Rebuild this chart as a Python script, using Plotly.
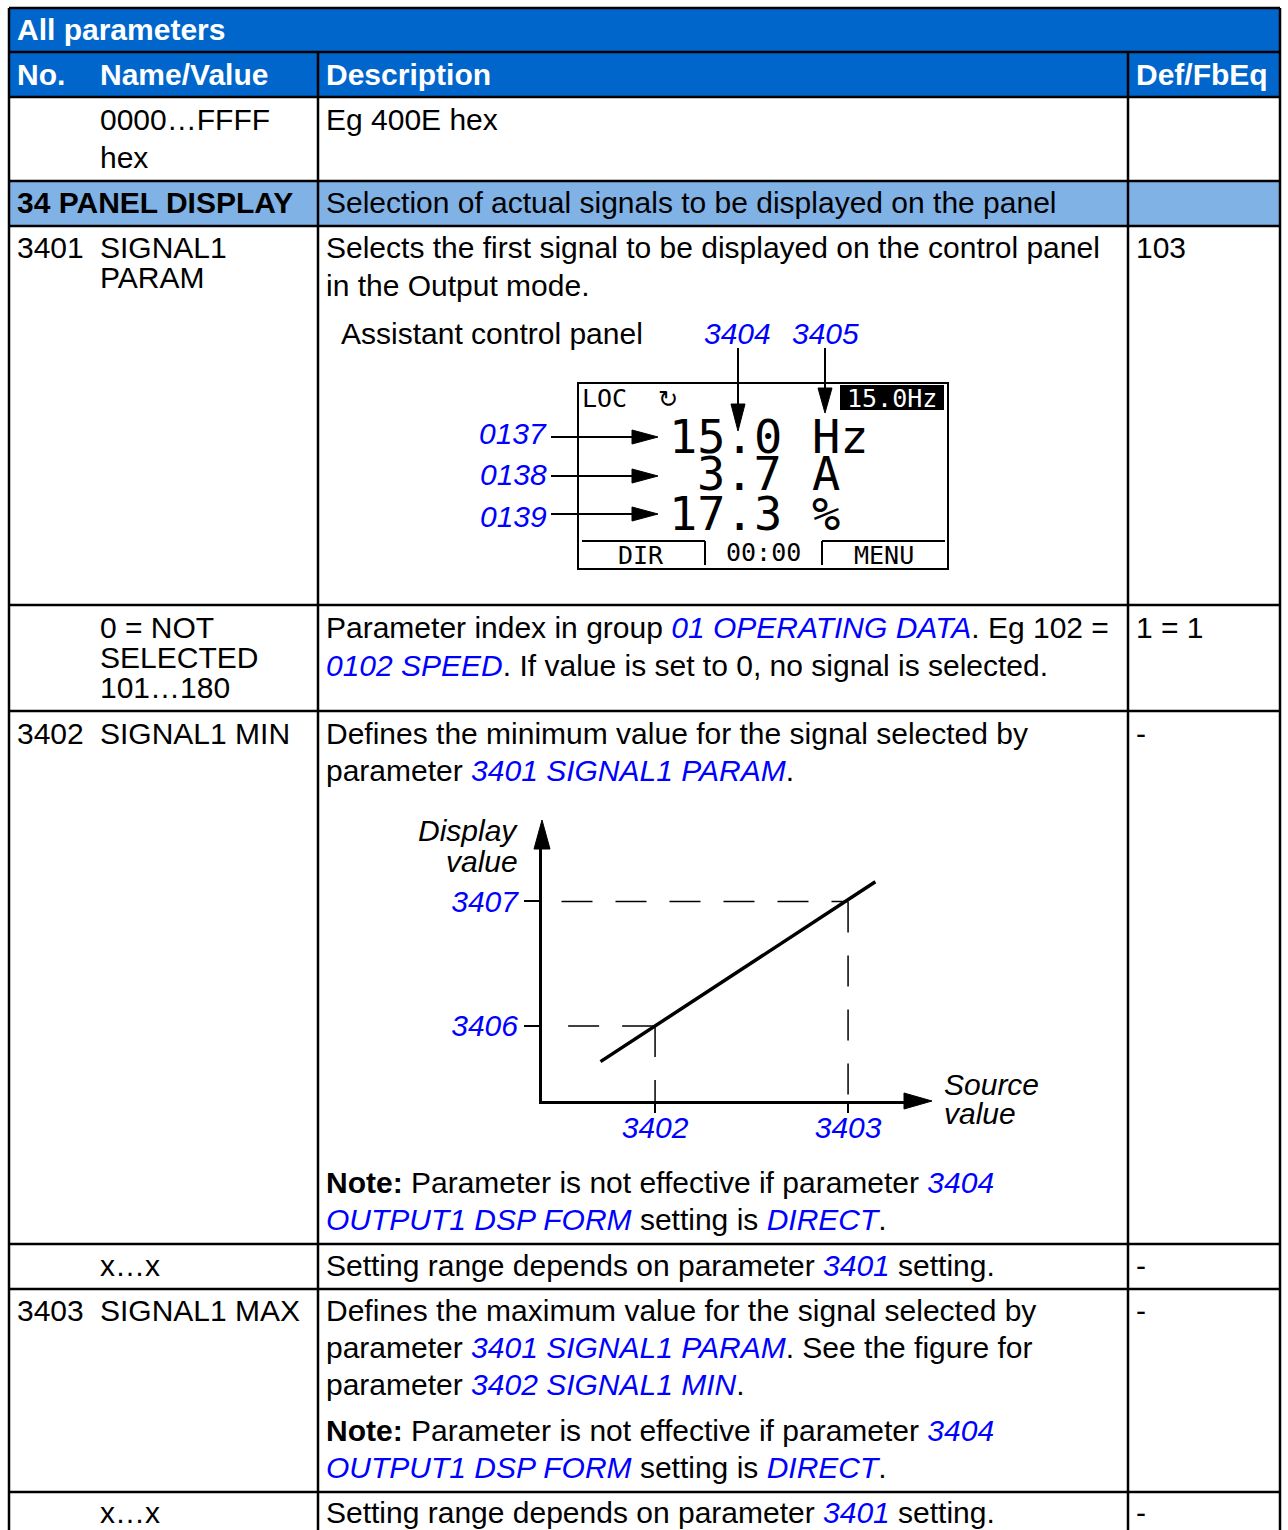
import plotly.graph_objects as go

W, H = 1288, 1530
HEAD_BLUE = "#0066cc"
GROUP_BLUE = "#80b2e6"
LINK_BLUE = "#0000ff"
SANS = "Liberation Sans"
MONO = "DejaVu Sans Mono"
FS = 30


def link(s):
    return f'<span style="color:{LINK_BLUE}"><i>{s}</i></span>'


# ---- table content ----
title = "All parameters"
col_titles = ["No.", "Name/Value", "Description", "Def/FbEq"]

hex_name = ["0000…FFFF", "hex"]
hex_desc = "Eg 400E hex"

group_name = "34 PANEL DISPLAY"
group_desc = "Selection of actual signals to be displayed on the panel"

p3401 = ["3401", ["SIGNAL1", "PARAM"], "103"]
p3401_desc = ["Selects the first signal to be displayed on the control panel",
              "in the Output mode."]
panel_caption = "Assistant control panel"
panel_refs = ["3404", "3405"]
panel_signals = ["0137", "0138", "0139"]
panel_values = ["15.0", "3.7", "17.3"]
panel_units = ["Hz", "A", "%"]
panel_status = ["LOC", "↻", "15.0Hz"]
panel_keys = ["DIR", "00:00", "MENU"]

sel_name = ["0 = NOT", "SELECTED", "101…180"]
sel_desc = ["Parameter index in group " + link("01 OPERATING DATA") + ". Eg 102 =",
            link("0102 SPEED") + ". If value is set to 0, no signal is selected."]
sel_def = "1 = 1"

p3402 = ["3402", "SIGNAL1 MIN", "-"]
p3402_desc = ["Defines the minimum value for the signal selected by",
              "parameter " + link("3401 SIGNAL1 PARAM") + "."]
note = ["<b>Note:</b> Parameter is not effective if parameter " + link("3404"),
        link("OUTPUT1 DSP FORM") + " setting is " + link("DIRECT") + "."]
range_name = "x…x"
range_desc = "Setting range depends on parameter " + link("3401") + " setting."
range_def = "-"

p3403 = ["3403", "SIGNAL1 MAX", "-"]
p3403_desc = ["Defines the maximum value for the signal selected by",
              "parameter " + link("3401 SIGNAL1 PARAM") + ". See the figure for",
              "parameter " + link("3402 SIGNAL1 MIN") + "."]

# ---- scaling diagram (source value -> display value) ----
src_line = [1.5, 8.55]
disp_line = [1.4, 7.8]
src_ticks = [2.9, 7.85]
src_labels = ["3402", "3403"]
disp_ticks = [2.67, 7.1]
disp_labels = ["3406", "3407"]
axis_titles = [["Display", "value"], ["Source", "value"]]

# ---- layout in pixels ----
L, R = 9, 1280
C1, C2 = 318, 1128
row_edges = [8, 52, 97, 181, 226, 605, 711, 1244, 1289, 1492]
NO_X, NAME_X, DESC_X, DEF_X = 15, 98, 324, 1134

shapes = []
ann = []


def put(x, y, text, size=FS, color="black", xanchor="left", family=SANS, **kw):
    ann.append(dict(x=x, y=y, xref="x", yref="y", text=text, showarrow=False,
                    xanchor=xanchor, yanchor="middle",
                    font=dict(family=family, size=size, color=color, **kw)))


def seg(x0, y0, x1, y1, w=2.5):
    shapes.append(dict(type="line", xref="x", yref="y", x0=x0, y0=y0, x1=x1, y1=y1,
                       line=dict(color="black", width=w)))


def box(x0, y0, x1, y1, fill=None, w=0, layer="below"):
    shapes.append(dict(type="rect", xref="x", yref="y", x0=x0, y0=y0, x1=x1, y1=y1,
                       fillcolor=fill or "rgba(0,0,0,0)",
                       line=dict(color="black", width=w), layer=layer))


def head(pts):
    path = "M " + " L ".join(f"{a},{b}" for a, b in pts) + " Z"
    shapes.append(dict(type="path", xref="x", yref="y", path=path,
                       fillcolor="black", line=dict(color="black", width=1)))


# backgrounds
box(L, row_edges[0], R, row_edges[2], HEAD_BLUE)
box(L, row_edges[3], R, row_edges[4], GROUP_BLUE)
# grid
for y in row_edges:
    seg(L, y, R, y)
for x in (L, R):
    seg(x, row_edges[0], x, H + 5)
for x in (C1, C2):
    seg(x, row_edges[1], x, H + 5)

# header text
put(NO_X, 29, title, color="white", weight="bold")
for x, t in zip((NO_X, NAME_X, DESC_X, DEF_X), col_titles):
    put(x, 74, t, color="white", weight="bold")

# hex row
for y, t in zip((119, 157), hex_name):
    put(NAME_X, y, t)
put(DESC_X, 119, hex_desc)

# group row
put(NO_X, 202, group_name, weight="bold")
put(DESC_X, 202, group_desc)

# 3401
put(NO_X, 247, p3401[0])
for y, t in zip((247, 277), p3401[1]):
    put(NAME_X, y, t)
for y, t in zip((247, 285), p3401_desc):
    put(DESC_X, y, t)
put(DEF_X, 247, p3401[2])

# control panel picture
put(339, 333, panel_caption)
for x, t in zip((737, 825), panel_refs):
    put(x, 333, t, color=LINK_BLUE, xanchor="center", style="italic")
box(578, 383, 948, 569, w=2, layer="above")
box(840, 385, 944, 410, fill="black", layer="above")
put(580, 398, panel_status[0], size=25, family=MONO)
put(668, 399, panel_status[1], size=24, family="DejaVu Sans", xanchor="center")
put(892, 398, panel_status[2], size=25, family=MONO, color="white", xanchor="center")
for y, v, u in zip((436, 473, 513), panel_values, panel_units):
    put(784, y, v, size=47, family=MONO, xanchor="right")
    put(810, y, u, size=47, family=MONO)
seg(582, 541, 705, 541, 2)
seg(705, 541, 705, 565, 2)
seg(822, 541, 822, 565, 2)
seg(822, 541, 945, 541, 2)
for x, y, t in zip((641, 763, 884), (555, 552, 555), panel_keys):
    put(x, y, t, size=25, family=MONO, xanchor="center")
for y, yl, t in zip((437, 476, 514), (433, 474, 516), panel_signals):
    put(549, yl, t, color=LINK_BLUE, xanchor="right", style="italic")
    seg(551, y, 634, y, 2)
    head([(632, y - 7), (658, y), (632, y + 7)])
seg(738, 348, 738, 405, 2)
head([(731, 404), (738, 431), (745, 404)])
seg(825, 348, 825, 389, 2)
head([(818, 388), (825, 413), (832, 388)])

# selection row
for y, t in zip((627, 657, 687), sel_name):
    put(NAME_X, y, t)
for y, t in zip((627, 665), sel_desc):
    put(DESC_X, y, t)
put(DEF_X, 627, sel_def)

# 3402
put(NO_X, 733, p3402[0])
put(NAME_X, 733, p3402[1])
put(DEF_X, 733, p3402[2])
for y, t in zip((733, 770), p3402_desc):
    put(DESC_X, y, t)
for y, t in zip((1182, 1219), note):
    put(DESC_X, y, t)

# diagram axis titles and arrowheads
for y, t in zip((830, 861), axis_titles[0]):
    put(520, y, t, xanchor="right", style="italic")
for y, t in zip((1084, 1113), axis_titles[1]):
    put(942, y, t, style="italic")
head([(534, 849), (542, 820), (550, 849)])
head([(904, 1093), (932, 1101), (904, 1109)])

# range rows and 3403
put(NAME_X, 1265, range_name)
put(DESC_X, 1265, range_desc)
put(DEF_X, 1265, range_def)
put(NO_X, 1310, p3403[0])
put(NAME_X, 1310, p3403[1])
put(DEF_X, 1310, p3403[2])
for y, t in zip((1310, 1347, 1384), p3403_desc):
    put(DESC_X, y, t)
for y, t in zip((1430, 1467), note):
    put(DESC_X, y, t)
put(NAME_X, 1512, range_name)
put(DESC_X, 1512, range_desc)
put(DEF_X, 1512, range_def)

# ---- figure ----
fig = go.Figure()
fig.add_trace(go.Scatter(x=[0], y=[0], mode="markers", marker=dict(opacity=0),
                         hoverinfo="skip", showlegend=False))
guide_style = dict(color="black", width=1.5, dash="31px,23px")
guides = [
    ([0.5, src_ticks[1]], [disp_ticks[1]] * 2),
    ([src_ticks[1]] * 2, [disp_ticks[1], 0]),
    ([0.67, src_ticks[0]], [disp_ticks[0]] * 2),
    ([src_ticks[0]] * 2, [disp_ticks[0], 0]),
]
for gx, gy in guides:
    fig.add_trace(go.Scatter(x=gx, y=gy, xaxis="x2", yaxis="y2", mode="lines",
                             line=guide_style, showlegend=False, hoverinfo="skip"))
fig.add_trace(go.Scatter(x=src_line, y=disp_line, xaxis="x2", yaxis="y2", mode="lines",
                         line=dict(color="black", width=3.5), showlegend=False,
                         hoverinfo="skip"))

tick_font = dict(family=SANS, size=FS, color=LINK_BLUE, style="italic")
fig.update_layout(
    width=W, height=H,
    margin=dict(l=0, r=0, t=0, b=0),
    paper_bgcolor="white",
    plot_bgcolor="rgba(0,0,0,0)",
    xaxis=dict(range=[0, W], visible=False, fixedrange=True),
    yaxis=dict(range=[H, 0], visible=False, fixedrange=True),
    xaxis2=dict(domain=[542 / W, 905 / W], range=[0, 9.31], anchor="y2",
                showline=True, linewidth=3, linecolor="black", showgrid=False,
                zeroline=False, ticks="outside", ticklen=9, tickwidth=1.5,
                tickcolor="black", tickvals=src_ticks, ticktext=src_labels,
                tickfont=tick_font, ticklabelstandoff=-11, fixedrange=True),
    yaxis2=dict(domain=[(H - 1101) / H, (H - 845) / H], range=[0, 9.11], anchor="x2",
                showline=True, linewidth=3, linecolor="black", showgrid=False,
                zeroline=False, ticks="outside", ticklen=15, tickwidth=1.5,
                tickcolor="black", tickvals=disp_ticks, ticktext=disp_labels,
                tickfont=tick_font, ticklabelstandoff=0, fixedrange=True),
    shapes=shapes,
    annotations=ann,
)

fig.write_html("out.html", config={"displayModeBar": False},
               post_script="document.body.style.margin='0';")
